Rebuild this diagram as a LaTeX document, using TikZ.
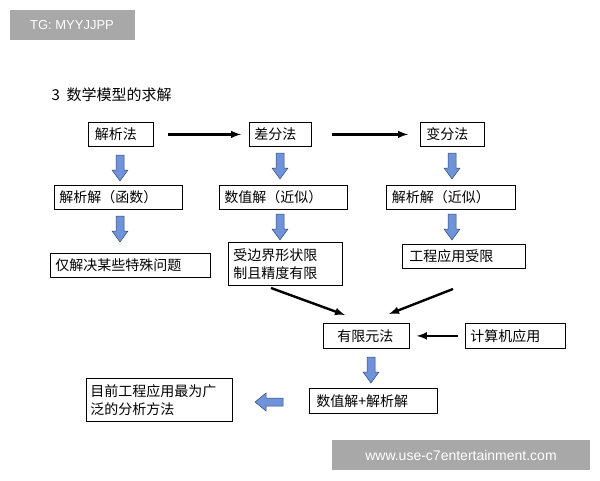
\documentclass[tikz,border=0pt]{standalone}
\usepackage{fontspec}
\setmainfont{Liberation Sans}
\newfontfamily\cjk{Noto Sans CJK SC}
\usetikzlibrary{positioning}
\definecolor{blockblue}{HTML}{6E93DA}
\definecolor{wmgray}{HTML}{A8A8A8}
\tikzset{
  box/.style={draw, line width=0.8pt, inner sep=0pt, anchor=north west,
    font=\cjk\fontsize{14}{18}\selectfont, align=left},
  flow/.style={-latex, line width=2.4pt},
}
% block arrow pointing down: x, top y, bottom y
\newcommand{\blockdown}[3]{%
  \draw[fill=blockblue, draw=blockblue!50!black, line width=0.5pt]
    (#1-4,#2) -- (#1+4,#2) -- (#1+4,#3-11) -- (#1+8,#3-11) -- (#1,#3)
    -- (#1-8,#3-11) -- (#1-4,#3-11) -- cycle;}
\begin{document}
\begin{tikzpicture}[x=1pt,y=-1pt]
  \useasboundingbox (0,0) rectangle (600,480);
  \fill[white] (0,0) rectangle (600,480);

  % watermarks
  \fill[wmgray] (10,10) rectangle (135,40);
  \node[text=white, font=\fontsize{13}{15}\selectfont] (tg) at (72,25) {TG: MYYJJPP};
  \fill[wmgray] (332,440) rectangle (590,470);
  \node[text=white, font=\fontsize{14}{16}\selectfont] (wm) at (461,455) {www.use-c7entertainment.com};

  \node[anchor=west, font=\cjk\fontsize{15}{18}\selectfont] (title) at (48,95) {3\ \ 数学模型的求解};

  % row 1
  \node[box, minimum width=65pt, minimum height=24pt, text width=58pt] (jxf) at (88,122) {\hspace*{3pt}解析法};
  \node[box, minimum width=62pt, minimum height=24pt, text width=58pt] (cff) at (249,122) {\hspace*{3pt}差分法};
  \node[box, minimum width=64pt, minimum height=24pt, text width=58pt] (bff) at (420,122) {\hspace*{3pt}变分法};
  \draw[flow] (jxf.east) ++(14,0) -- ([xshift=-8pt]cff.west);
  \draw[flow] (cff.east) ++(20,0) -- ([xshift=-12pt]bff.west);

  % row 2
  \node[box, minimum width=128pt, minimum height=24pt, text width=124pt] (jxj) at (54,185) {\hspace*{3pt}解析解（函数）};
  \node[box, minimum width=128pt, minimum height=24pt, text width=124pt] (szj) at (219,185) {\hspace*{3pt}数值解（近似）};
  \node[box, minimum width=129pt, minimum height=24pt, text width=124pt] (jxjj) at (386,185) {\hspace*{3pt}解析解（近似）};
  \blockdown{120}{155}{181}
  \blockdown{280}{153}{179}
  \blockdown{452}{153}{179}

  % row 3
  \node[box, minimum width=160pt, minimum height=24pt, text width=156pt] (jjts) at (50,253) {\hspace*{3pt}仅解决某些特殊问题};
  \node[box, minimum width=114pt, minimum height=43pt, text width=110pt] (bjxz) at (228,242) {\hspace*{3pt}受边界形状限\\\hspace*{3pt}制且精度有限};
  \node[box, minimum width=123pt, minimum height=24pt, text width=119pt] (gcsx) at (402,244) {\hspace*{5pt}工程应用受限};
  \blockdown{120}{216}{242}
  \blockdown{280}{214}{240}
  \blockdown{452}{214}{240}

  % finite element
  \node[box, minimum width=86pt, minimum height=25pt, text width=82pt] (yxy) at (323,323) {\hspace*{12pt}有限元法};
  \node[box, minimum width=100pt, minimum height=25pt, text width=96pt] (jsj) at (465,323) {\hspace*{3pt}计算机应用};
  \coordinate (fromb) at (271,288);
  \coordinate (fromg) at (453,289);
  \draw[flow] (fromb) -- (345,315);
  \draw[flow] (fromg) -- (389,314);
  \draw[flow] ([xshift=-7pt]jsj.west) -- ([xshift=7pt]yxy.east);

  \node[box, minimum width=128pt, minimum height=25pt, text width=124pt] (szjx) at (309,388) {\hspace*{5pt}数值解+解析解};
  \node[box, minimum width=146pt, minimum height=43pt, text width=144pt] (mqgc) at (86,378) {\hspace*{3pt}目前工程应用最为广\\\hspace*{3pt}泛的分析方法};
  \blockdown{371}{357}{383}
  \draw[fill=blockblue, draw=blockblue!50!black, line width=0.5pt]
    (283,398) -- (283,406) -- (266,406) -- (266,411) -- (255,402)
    -- (266,393) -- (266,398) -- cycle;
\end{tikzpicture}
\end{document}
